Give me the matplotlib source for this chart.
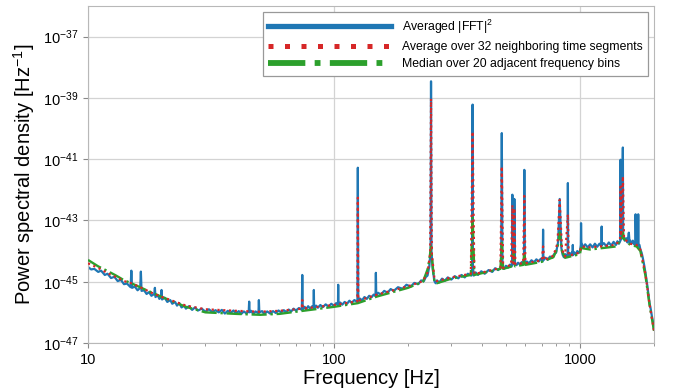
import numpy as np
import matplotlib
matplotlib.use("Agg")
import matplotlib.pyplot as plt
from matplotlib.ticker import FixedLocator, LogLocator, NullFormatter, NullLocator, ScalarFormatter

plt.rcParams['font.family'] = ['Liberation Sans', 'DejaVu Sans']
plt.rcParams['mathtext.fontset'] = 'custom'
plt.rcParams['mathtext.rm'] = 'Liberation Sans'
plt.rcParams['mathtext.it'] = 'Liberation Sans:italic'

# averaged |FFT|^2 : frequency [Hz] and log10 of PSD (one row of freq <-> one row of psd)
freq_fft = [10.0, 10.3, 10.6, 11.0, 11.3, 11.7, 12.0, 12.4, 12.8, 13.2, 13.6, 14.0, 14.4, 14.9, 15.0, 15.1,
            15.5, 15.9, 16.3, 16.4, 16.5, 16.9, 17.3, 17.7, 18.1, 18.6, 18.7, 18.8, 19.2, 19.5, 19.8, 19.9,
            20.0, 20.5, 21, 21.6, 22, 22.6, 23, 23.5, 24, 24.6, 25, 25.7, 26.5, 27.2, 28, 29,
            30, 31, 32, 33, 34, 35, 36, 37, 38, 39, 40, 41, 42, 43, 44, 45,
            45.2, 45.4, 46, 47, 48, 49.3, 49.5, 49.7, 51, 52, 53.5, 55, 56.5, 58, 59.5, 61,
            62.5, 64, 65.5, 67, 68.5, 70, 72, 74.0, 74.3, 74.6, 76, 77, 78.5, 80, 81.5, 82.6,
            82.8, 83.0, 84.5, 86, 88, 90, 92.5, 95, 97.5, 100, 102, 103.8, 104, 104.2, 106, 108,
            110.5, 113, 115.5, 118, 121, 124.5, 125, 125.5, 127.5, 130, 133, 136, 139, 142, 145, 147.5,
            148, 148.5, 151, 155, 160, 165, 170, 175, 182, 190, 197, 205, 212, 220, 226, 232,
            236, 240, 244, 247, 248, 249, 252, 256, 259, 262, 268, 275, 282, 290, 300, 310,
            320, 330, 340, 350, 362, 365, 366, 367, 370, 377, 385, 397, 410, 425, 440, 452,
            465, 478, 481, 484, 492, 500, 510, 520, 530, 531, 533, 540, 541, 544, 552, 560,
            570, 580, 592, 594, 596, 608, 620, 635, 650, 665, 680, 693, 706, 708, 710, 725,
            740, 755, 770, 785, 800, 815, 827, 840, 850, 860, 870, 880, 891, 893, 895, 905,
            915, 925, 933, 935, 937, 948, 960, 975, 990, 1000, 1008, 1010, 1013, 1030, 1050, 1075,
            1100, 1125, 1150, 1175, 1200, 1223, 1225, 1227, 1250, 1280, 1310, 1340, 1370, 1400, 1420, 1440,
            1460, 1462, 1465, 1480, 1494, 1498, 1520, 1540, 1560, 1580, 1590, 1600, 1620, 1640, 1660, 1680,
            1683, 1690, 1705, 1722, 1725, 1728, 1745, 1760, 1780, 1800, 1823, 1846, 1865, 1880, 1900, 1917,
            1940, 1960, 1980, 2000]
psd_fft = [-44.52, -44.60, -44.58, -44.68, -44.64, -44.78, -44.74, -44.88, -44.84, -44.98, -44.94, -45.08, -45.06, -45.18, -44.64, -45.20,
           -45.16, -45.28, -45.20, -44.67, -45.30, -45.28, -45.40, -45.34, -45.46, -45.40, -45.20, -45.50, -45.44, -45.56, -45.50, -45.27,
           -45.58, -45.52, -45.66, -45.60, -45.72, -45.66, -45.78, -45.70, -45.84, -45.78, -45.88, -45.80, -45.92, -45.84, -45.94, -45.88,
           -45.98, -45.90, -45.99, -45.93, -46.00, -45.92, -46.04, -45.95, -46.02, -45.94, -46.03, -45.96, -46.05, -45.97, -46.03, -45.98,
           -45.65, -46.00, -45.95, -46.05, -45.97, -46.03, -45.60, -46.00, -45.96, -46.05, -45.97, -46.04, -45.96, -46.02, -45.94, -46.00,
           -45.93, -45.99, -45.91, -45.97, -45.88, -45.94, -45.86, -45.92, -44.78, -45.90, -45.82, -45.90, -45.80, -45.88, -45.80, -45.86,
           -45.27, -45.86, -45.78, -45.85, -45.76, -45.83, -45.74, -45.81, -45.72, -45.79, -45.70, -45.76, -45.10, -45.75, -45.68, -45.75,
           -45.66, -45.72, -45.62, -45.69, -45.60, -45.66, -41.28, -45.64, -45.55, -45.61, -45.50, -45.56, -45.46, -45.51, -45.42, -45.47,
           -44.71, -45.45, -45.36, -45.42, -45.30, -45.36, -45.24, -45.30, -45.18, -45.23, -45.10, -45.16, -45.04, -45.08, -44.96, -44.98,
           -44.85, -44.80, -44.50, -44.00, -38.46, -44.00, -44.60, -44.98, -45.05, -44.96, -45.02, -44.90, -44.97, -44.86, -44.93, -44.82,
           -44.89, -44.78, -44.86, -44.74, -44.80, -44.50, -39.22, -44.50, -44.80, -44.70, -44.78, -44.66, -44.74, -44.62, -44.68, -44.56,
           -44.62, -44.52, -40.15, -44.52, -44.58, -44.48, -44.54, -44.44, -44.48, -42.16, -44.42, -44.42, -42.30, -44.42, -44.46, -44.38,
           -44.44, -44.36, -44.42, -41.35, -44.40, -44.34, -44.40, -44.30, -44.37, -44.27, -44.34, -44.25, -44.32, -43.30, -44.30, -44.22,
           -44.28, -44.18, -44.22, -44.10, -44.05, -43.70, -42.30, -43.90, -44.12, -44.20, -44.10, -44.17, -44.10, -41.78, -44.14, -44.06,
           -44.15, -44.05, -44.14, -43.80, -44.12, -44.04, -44.12, -44.00, -44.06, -44.00, -43.80, -43.09, -43.72, -43.88, -43.78, -43.88,
           -43.78, -43.88, -43.76, -43.86, -43.76, -43.84, -43.20, -43.80, -43.74, -43.84, -43.72, -43.82, -43.70, -43.80, -43.68, -43.76,
           -43.66, -41.02, -43.62, -43.56, -40.62, -43.56, -43.66, -43.58, -43.72, -43.40, -43.70, -43.66, -43.76, -43.66, -43.78, -43.70,
           -42.80, -43.78, -43.70, -43.80, -42.80, -43.82, -43.80, -43.95, -44.05, -44.22, -44.45, -44.71, -44.95, -45.15, -45.45, -45.69,
           -45.90, -46.12, -46.30, -46.57]

# average over 32 neighbouring time segments
freq_avg = [10, 11, 12, 13, 14, 15, 16, 17, 18, 20, 22, 25, 30, 40, 50, 60, 70, 74.0, 74.3, 74.6,
            80, 100, 124.5, 125, 125.5, 150, 200, 230, 240, 246, 248, 250, 256, 262, 300, 360,
            366, 372, 400, 475, 481, 487, 525, 531, 536, 541, 546, 588, 594, 600, 700, 708, 716,
            780, 810, 827, 845, 870, 893, 900, 1000, 1010, 1100, 1400, 1455, 1462, 1470, 1494, 1510,
            1600, 1700, 1760, 1846, 1917, 2000]
psd_avg = [-44.40, -44.55, -44.72, -44.85, -44.98, -45.05, -45.15, -45.25, -45.35, -45.50, -45.62, -45.78, -45.90, -45.95, -45.98, -45.95, -45.90, -45.88, -45.60, -45.88,
           -45.85, -45.76, -45.64, -42.26, -45.62, -45.42, -45.15, -44.98, -44.70, -44.10, -39.03, -44.10, -44.90, -44.98, -44.86, -44.74,
           -40.10, -44.74, -44.70, -44.55, -41.24, -44.55, -44.45, -42.50, -44.40, -42.60, -44.42, -44.40, -42.20, -44.40, -44.30, -43.85, -44.30,
           -44.15, -43.75, -42.33, -43.95, -44.18, -42.80, -44.15, -44.05, -43.85, -43.88, -43.80, -43.60, -41.90, -43.50, -41.56, -43.60,
           -43.76, -43.80, -43.95, -44.75, -45.72, -46.60]

# median over 20 adjacent frequency bins
freq_med = [10, 11, 12, 13, 14, 15, 17, 20, 25, 30, 40, 50, 60, 70, 80, 100, 125, 150, 200, 230,
            240, 244, 248, 252, 256, 262, 300, 360, 366, 372, 400, 475, 481, 487, 530, 536, 545,
            588, 594, 600, 700, 780, 810, 827, 845, 870, 1000, 1010, 1100, 1400, 1480, 1494, 1510,
            1600, 1700, 1760, 1846, 1917, 2000]
psd_med = [-44.29, -44.50, -44.65, -44.80, -44.95, -45.05, -45.25, -45.50, -45.82, -46.00, -46.05, -46.08, -46.05, -45.98, -45.92, -45.82, -45.70, -45.48, -45.20, -45.00,
           -44.60, -44.30, -43.85, -44.50, -45.00, -45.05, -44.90, -44.78, -42.87, -44.78, -44.72, -44.58, -43.73, -44.58, -44.50, -44.00, -44.50,
           -44.45, -44.06, -44.45, -44.35, -44.20, -43.90, -43.40, -44.00, -44.22, -44.10, -43.90, -43.95, -43.85, -43.60, -43.40, -43.60,
           -43.80, -43.85, -44.00, -44.80, -45.75, -46.60]

fig = plt.figure(figsize=(6.73, 3.91), dpi=100)
ax = fig.add_axes([0.1308, 0.1228, 0.841, 0.862])

ax.plot(freq_fft, 10.0 ** np.array(psd_fft), color='#1f77b4', lw=1.6,
        label=r'Averaged |FFT|$^2$', zorder=2)
ax.plot(freq_avg, 10.0 ** np.array(psd_avg), color='#d62728', lw=1.6,
        ls=(0, (1, 1.6)), label='Average over 32 neighboring time segments', zorder=4)
ax.plot(freq_med, 10.0 ** np.array(psd_med), color='#2ca02c', lw=1.7,
        ls='-.', label='Median over 20 adjacent frequency bins', zorder=3)

ax.set_xscale('log')
ax.set_yscale('log')
ax.set_xlim(10, 2000)
ax.set_ylim(1e-47, 1e-36)
ax.yaxis.set_major_locator(FixedLocator(10.0 ** np.arange(-47, -36, 2)))
ax.yaxis.set_minor_locator(NullLocator())
ax.xaxis.set_major_formatter(ScalarFormatter())
ax.xaxis.set_minor_locator(LogLocator(base=10, subs=np.arange(2, 10)))
ax.xaxis.set_minor_formatter(NullFormatter())

ax.grid(True, which='major', color='#d3d3d3', lw=0.9)
ax.set_axisbelow(True)
for s in ax.spines.values():
    s.set_color('#b8b8b8')
ax.tick_params(which='major', length=3.5, color='#888888', labelsize=10.5)
ax.tick_params(which='minor', length=2.2, color='#888888')

ax.set_xlabel('Frequency [Hz]', fontsize=14.5, labelpad=2)
ax.set_ylabel(r'Power spectral density [Hz$^{-1}$]', fontsize=14.5, labelpad=4)

leg = ax.legend(loc='upper right', fontsize=8.8, fancybox=False, edgecolor='#999999',
                framealpha=1, handlelength=10.0, handletextpad=0.9, borderpad=0.45,
                labelspacing=0.42)
leg.get_frame().set_linewidth(0.9)
for line, w in zip(leg.get_lines(), [3.8, 3.6, 4.2]):
    line.set_linewidth(w)
leg.get_lines()[1].set_linestyle((0, (1, 2.3)))

fig.savefig('out.png', dpi=100)
